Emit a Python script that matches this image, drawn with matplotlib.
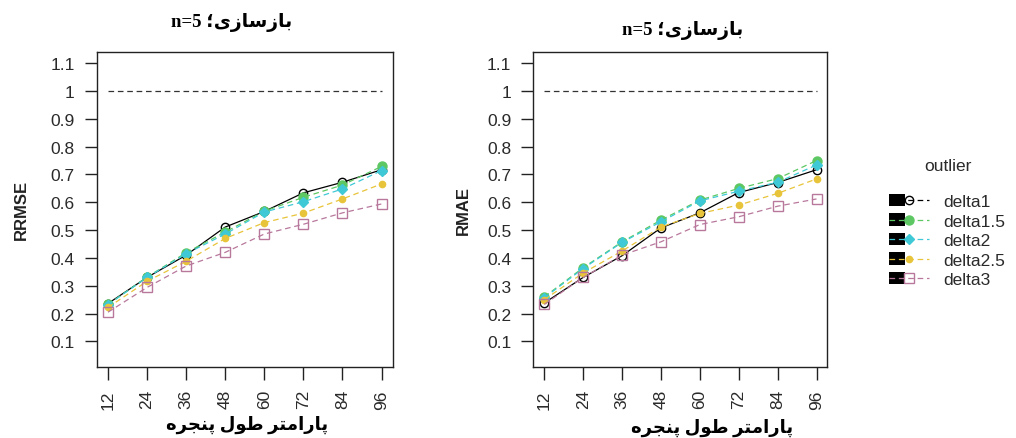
import matplotlib
matplotlib.use('Agg')
import matplotlib.pyplot as plt
from matplotlib.lines import Line2D
from matplotlib.patches import Rectangle
from matplotlib.legend_handler import HandlerLine2D

plt.rcParams['font.family'] = ['Liberation Sans', 'DejaVu Sans']

# window length parameter (x axis)
window = [12, 24, 36, 48, 60, 72, 84, 96]
series_names = ['delta1', 'delta1.5', 'delta2', 'delta2.5', 'delta3']
ref_level = 1.0

# left panel: RRMSE
rrmse_delta1 = [0.236, 0.330, 0.410, 0.511, 0.567, 0.634, 0.672, 0.717]
rrmse_delta15 = [0.233, 0.331, 0.419, 0.493, 0.568, 0.618, 0.662, 0.729]
rrmse_delta2 = [0.232, 0.330, 0.415, 0.486, 0.565, 0.602, 0.648, 0.714]
rrmse_delta25 = [0.222, 0.316, 0.388, 0.470, 0.527, 0.561, 0.612, 0.666]
rrmse_delta3 = [0.205, 0.294, 0.371, 0.420, 0.486, 0.521, 0.562, 0.594]

# right panel: RMAE
rmae_delta1 = [0.238, 0.330, 0.408, 0.508, 0.562, 0.635, 0.671, 0.717]
rmae_delta15 = [0.260, 0.365, 0.458, 0.536, 0.608, 0.650, 0.685, 0.750]
rmae_delta2 = [0.257, 0.362, 0.456, 0.530, 0.605, 0.640, 0.672, 0.734]
rmae_delta25 = [0.250, 0.346, 0.425, 0.511, 0.560, 0.590, 0.632, 0.684]
rmae_delta3 = [0.233, 0.330, 0.410, 0.458, 0.520, 0.548, 0.586, 0.612]

colors = ['black', '#5DC863', '#3FC9D6', '#E8C43A', '#B8789C']
markers = ['o', 'o', 'D', 'o', 's']
msizes = [6, 6.5, 5, 4.5, 6.5]
mfaces = ['none', '#5DC863', '#3FC9D6', '#E8C43A', 'none']
dash = (0, (4.5, 3))
styles = ['-', dash, dash, dash, dash]

# minimal persian shaping: isolated, final, initial, medial
FORMS = {
    'ا': ('\ufe8d', '\ufe8e', None, None),
    'ب': ('\ufe8f', '\ufe90', '\ufe91', '\ufe92'),
    'پ': ('\ufb56', '\ufb57', '\ufb58', '\ufb59'),
    'ت': ('\ufe95', '\ufe96', '\ufe97', '\ufe98'),
    'ج': ('\ufe9d', '\ufe9e', '\ufe9f', '\ufea0'),
    'ر': ('\ufead', '\ufeae', None, None),
    'ز': ('\ufeaf', '\ufeb0', None, None),
    'س': ('\ufeb1', '\ufeb2', '\ufeb3', '\ufeb4'),
    'ط': ('\ufec1', '\ufec2', '\ufec3', '\ufec4'),
    'ل': ('\ufedd', '\ufede', '\ufedf', '\ufee0'),
    'م': ('\ufee1', '\ufee2', '\ufee3', '\ufee4'),
    'ن': ('\ufee5', '\ufee6', '\ufee7', '\ufee8'),
    'ه': ('\ufee9', '\ufeea', '\ufeeb', '\ufeec'),
    'و': ('\ufeed', '\ufeee', None, None),
    'ی': ('\ufbfc', '\ufbfd', '\ufbfe', '\ufbff'),
}


def fa(text):
    out = []
    for i, ch in enumerate(text):
        if ch not in FORMS:
            out.append(ch)
            continue
        prev = text[i - 1] if i > 0 else ''
        nxt = text[i + 1] if i + 1 < len(text) else ''
        join_prev = prev in FORMS and FORMS[prev][2] is not None
        join_next = FORMS[ch][2] is not None and nxt in FORMS
        iso, fin, ini, med = FORMS[ch]
        if join_prev and join_next:
            out.append(med)
        elif join_prev:
            out.append(fin)
        elif join_next:
            out.append(ini)
        else:
            out.append(iso)
    return ''.join(reversed(out))


title_txt = 'n=5 ' + fa('بازسازی؛')
xlabel_txt = fa('پارامتر طول پنجره')
serif_bold = dict(family=['Liberation Serif', 'DejaVu Sans'], weight='bold', size=13)


class HandlerKey(HandlerLine2D):
    def create_artists(self, legend, orig_handle, xdescent, ydescent, width, height, fontsize, trans):
        box = Rectangle((-xdescent, -ydescent), width * 0.4, height, facecolor='black',
                        edgecolor='none', transform=trans)
        arts = super().create_artists(legend, orig_handle, xdescent, ydescent, width, height, fontsize, trans)
        return [box] + arts


def draw_panel(ax, data, ylabel):
    ax.hlines(ref_level, window[0], window[-1], colors='#333333', linestyles=(0, (4.5, 3)), lw=0.9)
    for vals, c, m, ms, mf, ls in zip(data, colors, markers, msizes, mfaces, styles):
        ax.plot(window, vals, color=c, ls=ls, lw=0.9, marker=m, ms=ms, mfc=mf, mec=c, mew=1.0)
    ax.set_xlim(8.64, 99.36)
    ax.set_ylim(0.008, 1.142)
    ax.set_xticks(window)
    ax.set_xticklabels([str(w) for w in window], rotation=90)
    ax.set_yticks([0.1, 0.2, 0.3, 0.4, 0.5, 0.6, 0.7, 0.8, 0.9, 1.0, 1.1])
    ax.set_yticklabels(['0.1', '0.2', '0.3', '0.4', '0.5', '0.6', '0.7', '0.8', '0.9', '1', '1.1'])
    ax.tick_params(length=9, width=1.0, pad=7, labelsize=12.5, colors='#222222', labelcolor='#2a2a2a')
    for sp in ax.spines.values():
        sp.set_color('#222222')
        sp.set_linewidth(1.0)
    ax.set_ylabel(ylabel, fontsize=12, fontweight='bold', color='#222222')


fig = plt.figure(figsize=(10.16, 4.39), dpi=100)
W, H = 1016.0, 439.0

ax1 = fig.add_axes([97 / W, 1 - 368 / H, 295.5 / W, 315.5 / H])
draw_panel(ax1, [rrmse_delta1, rrmse_delta15, rrmse_delta2, rrmse_delta25, rrmse_delta3], 'RRMSE')
ax1.yaxis.set_label_coords(-0.232, 0.5)

ax2 = fig.add_axes([533.4 / W, 1 - 368 / H, 294 / W, 315.5 / H])
draw_panel(ax2, [rmae_delta1, rmae_delta15, rmae_delta2, rmae_delta25, rmae_delta3], 'RMAE')
ax2.yaxis.set_label_coords(-0.212, 0.5)

title_font = dict(serif_bold, size=13.5)
fig.text(232 / W, 1 - 23 / H, title_txt, ha='center', va='center', **title_font)
fig.text(683 / W, 1 - 31 / H, title_txt, ha='center', va='center', **title_font)
fig.text(247 / W, 1 - 430 / H, xlabel_txt, ha='center', va='baseline', **serif_bold)
fig.text(712 / W, 1 - 433 / H, xlabel_txt, ha='center', va='baseline', **serif_bold)

handles = []
for c, m, ms, mf in zip(colors, markers, msizes, mfaces):
    handles.append(Line2D([], [], color=c, ls=(0, (4.5, 3)), lw=0.9, marker=m, ms=ms, mfc=mf, mec=c))
fig.text(948 / W, 1 - 167 / H, 'outlier', ha='center', va='center', fontsize=12.5, color='#2a2a2a')
leg = fig.legend(handles, series_names, loc='upper left',
                 bbox_to_anchor=(889 / W, 1 - 195 / H), frameon=False, fontsize=12.5,
                 handlelength=2.3, handletextpad=0.8, labelspacing=0.25,
                 borderpad=0, borderaxespad=0, handler_map={Line2D: HandlerKey()})
for t in leg.get_texts():
    t.set_color('#2a2a2a')

fig.savefig('out.png', dpi=100)
